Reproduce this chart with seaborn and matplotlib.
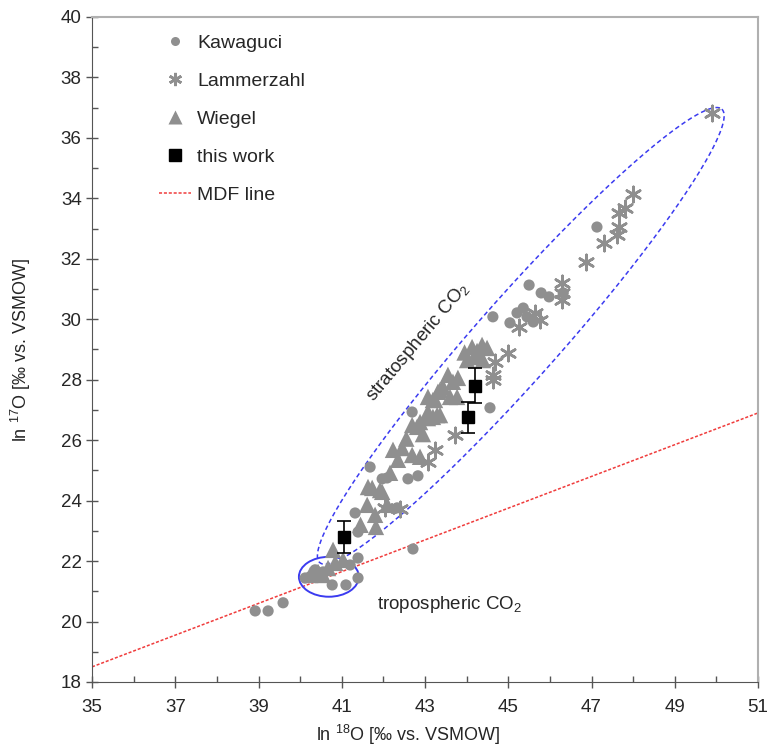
import numpy as np
import pandas as pd
import matplotlib
matplotlib.use("Agg")
import matplotlib.pyplot as plt
from matplotlib.lines import Line2D
from matplotlib.patches import Ellipse
import seaborn as sns

# ── Data ──────────────────────────────────────────────────────────────────────
kawaguci_x = [38.92, 39.23, 39.59, 40.12, 40.24, 40.36, 40.55, 40.77, 41.10, 41.39,
              41.20, 41.39, 41.39, 41.32, 41.68, 41.97, 42.09, 42.33, 42.59, 42.83,
              42.69, 42.71, 44.56, 44.63, 45.04, 45.21, 45.36, 45.45, 45.50, 45.60,
              45.79, 45.98, 46.32, 47.13]
kawaguci_y = [20.35, 20.35, 20.62, 21.44, 21.48, 21.71, 21.64, 21.21, 21.21, 21.44,
              21.87, 22.10, 22.96, 23.59, 25.11, 24.72, 24.75, 23.76, 24.72, 24.82,
              26.93, 22.40, 27.07, 30.08, 29.88, 30.21, 30.37, 30.08, 31.13, 29.91,
              30.87, 30.74, 30.87, 33.05]

lammerzahl_x = [49.90, 48.00, 47.81, 47.66, 47.66, 47.61, 47.30, 46.87, 46.29, 46.29,
                46.29, 45.64, 45.76, 45.26, 45.00, 44.68, 44.63, 44.63, 43.72, 43.24,
                43.07, 42.04, 42.40]
lammerzahl_y = [36.83, 34.15, 33.68, 33.52, 33.05, 32.79, 32.52, 31.90, 31.20, 30.87,
                30.64, 30.21, 29.98, 29.75, 28.89, 28.59, 28.16, 27.99, 26.17, 25.68,
                25.28, 23.76, 23.72]

wiegel_x = [40.24, 40.55, 40.67, 40.84, 40.79, 41.03, 40.43,
            41.63, 41.92, 41.61, 41.80, 41.82, 41.73, 41.97, 42.09, 41.45,
            42.23, 42.45, 42.35, 42.69, 42.88, 42.81, 43.07, 43.29, 42.69, 43.19,
            43.07, 43.36, 42.16,
            44.13, 44.37, 44.49, 44.01, 44.20, 44.39, 43.55, 43.67, 43.79, 43.43,
            43.31, 43.60, 43.77, 43.24, 43.07, 43.19, 43.36, 42.88,
            42.55, 42.95, 43.95, 44.25]
wiegel_y = [21.54, 21.54, 21.77, 21.94, 22.37, 22.04, 21.64,
            24.45, 24.35, 23.86, 23.53, 23.13, 24.42, 24.29, 23.86, 23.20,
            25.68, 25.74, 25.35, 25.51, 25.45, 26.44, 26.73, 26.83, 26.50, 27.33,
            27.43, 27.66, 24.92,
            29.08, 29.15, 29.05, 28.65, 28.75, 28.65, 28.16, 27.93, 28.06, 27.76,
            27.60, 27.43, 27.43, 27.33, 26.93, 26.77, 26.83, 26.60,
            26.05, 26.20, 28.90, 28.95]

this_work_x   = [41.05, 44.03, 44.20]
this_work_y   = [22.80, 26.75, 27.80]
this_work_err = [0.52, 0.50, 0.58]

mdf_x = [35, 51]
mdf_y = [18.5, 26.9]

# ellipses (data units)
strat_center = (45.30, 29.45)
strat_major  = (4.83, 7.50)      # half-axis vector
strat_minor  = (0.736, -0.903)   # conjugate half-axis vector
tropo_center = (40.69, 21.48)
tropo_size   = (1.44, 1.32)

GRAY = "#8f8f8f"
BLUE = "#3b3bf0"
RED  = "#f03c3c"

df_k = pd.DataFrame({"x": kawaguci_x, "y": kawaguci_y})
df_l = pd.DataFrame({"x": lammerzahl_x, "y": lammerzahl_y})
df_w = pd.DataFrame({"x": wiegel_x, "y": wiegel_y})
df_t = pd.DataFrame({"x": this_work_x, "y": this_work_y, "err": this_work_err})

# ── Plot ──────────────────────────────────────────────────────────────────────
sns.set_style("ticks")
plt.rcParams["font.family"] = ["Liberation Sans", "DejaVu Sans"]
plt.rcParams["mathtext.fontset"] = "custom"
plt.rcParams["mathtext.rm"] = "Liberation Sans"
plt.rcParams["mathtext.it"] = "Liberation Sans:italic"

fig = plt.figure(figsize=(7.67, 7.5), dpi=100)
ax = fig.add_axes([0.12, 0.0907, 0.8683, 0.8867])

sns.lineplot(x=mdf_x, y=mdf_y, ax=ax, color=RED, lw=1.1,
             linestyle=(0, (2, 1.2)), zorder=1)

sns.scatterplot(data=df_k, x="x", y="y", ax=ax, marker="o", s=65,
                color=GRAY, edgecolor="none", zorder=3)
sns.scatterplot(data=df_w, x="x", y="y", ax=ax, marker="^", s=140,
                color=GRAY, edgecolor="none", zorder=3)
sns.scatterplot(data=df_l, x="x", y="y", ax=ax, marker=(6, 2, 0), s=120,
                color=GRAY, linewidth=1.9, zorder=3)

ax.errorbar(df_t["x"], df_t["y"], yerr=df_t["err"], fmt="s", color="black",
            ms=8.5, capsize=5, elinewidth=1.2, capthick=1.2, zorder=4)

# stratospheric envelope
t = np.linspace(0, 2 * np.pi, 400)
ex = strat_center[0] + strat_major[0] * np.cos(t) + strat_minor[0] * np.sin(t)
ey = strat_center[1] + strat_major[1] * np.cos(t) + strat_minor[1] * np.sin(t)
ax.plot(ex, ey, color=BLUE, lw=1.1, linestyle=(0, (3, 2)), zorder=2)

ax.add_patch(Ellipse(tropo_center, tropo_size[0], tropo_size[1], fill=False,
                     edgecolor=BLUE, lw=1.4, zorder=2))

ax.text(42.82, 29.25, "stratospheric CO$_2$", rotation=50, fontsize=13.5,
        ha="center", va="center")
ax.text(41.85, 20.55, "tropospheric CO$_2$", fontsize=13.5, ha="left", va="center")

# axes
ax.set_xlim(35, 51)
ax.set_ylim(18, 40)
ax.set_xticks(np.arange(35, 52, 2))
ax.set_xticks(np.arange(35, 52, 1), minor=True)
ax.set_yticks(np.arange(18, 41, 2))
ax.set_yticks(np.arange(18, 41, 1), minor=True)
ax.tick_params(which="major", direction="inout", length=8, width=1,
               labelsize=13.5, color="#555555")
ax.tick_params(which="minor", direction="in", length=4, width=1, color="#555555")
ax.tick_params(axis="x", which="major", pad=8)

for side in ["left", "bottom"]:
    ax.spines[side].set_color("#555555")
for side in ["top", "right"]:
    ax.spines[side].set_color("#b0b0b0")
    ax.spines[side].set_linewidth(1.5)

ax.set_xlabel("ln $^{18}$O [‰ vs. VSMOW]", fontsize=13)
ax.set_ylabel("ln $^{17}$O [‰ vs. VSMOW]", fontsize=13)
ax.xaxis.set_label_coords(0.475, -0.062)
ax.yaxis.set_label_coords(-0.089, 0.5)

handles = [
    Line2D([], [], marker="o", ls="none", color=GRAY, ms=6.5, mec="none"),
    Line2D([], [], marker=(6, 2, 0), ls="none", color=GRAY, ms=9.5, mew=1.9),
    Line2D([], [], marker="^", ls="none", color=GRAY, ms=10, mec="none"),
    Line2D([], [], marker="s", ls="none", color="black", ms=8.5),
    Line2D([], [], color=RED, lw=1.1, ls=(0, (2, 1.2))),
]
labels = ["Kawaguci", "Lammerzahl", "Wiegel", "this work", "MDF line"]
ax.legend(handles, labels, loc="upper left", bbox_to_anchor=(0.075, 1.0),
          frameon=False, fontsize=14, labelspacing=1.05, handlelength=1.6,
          handletextpad=0.35)

fig.savefig("out.png", dpi=100)
